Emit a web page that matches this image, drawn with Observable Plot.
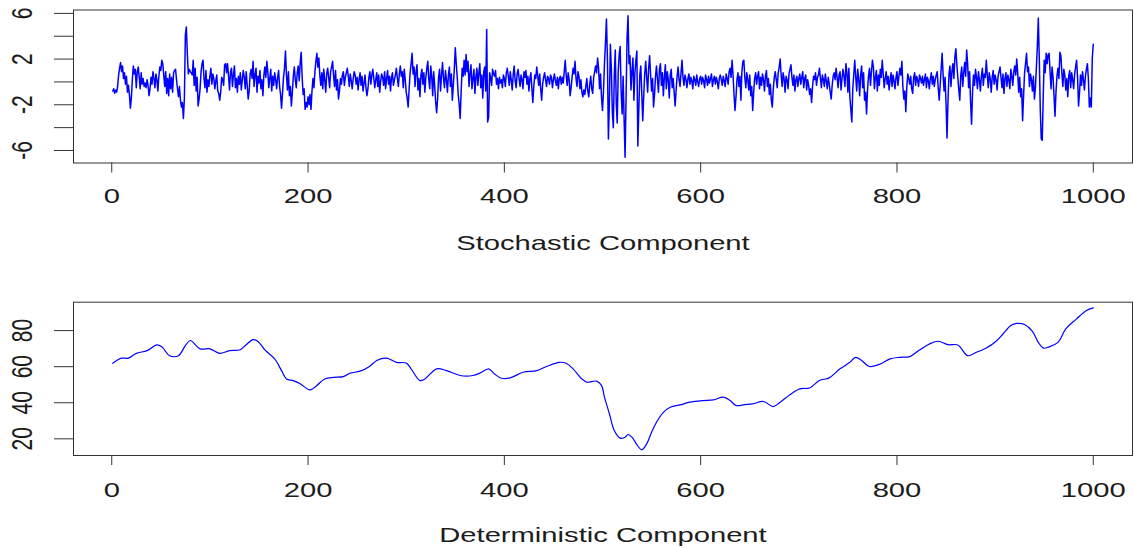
<!DOCTYPE html>
<html><head><meta charset="utf-8">
<script src="https://cdn.jsdelivr.net/npm/d3@7"></script>
<script src="https://cdn.jsdelivr.net/npm/@observablehq/plot@0.6"></script>
<style>
html,body{margin:0;padding:0;background:#fff;}
#chart{position:relative;width:1134px;height:548px;overflow:hidden;background:#fff;}
#chart svg{position:absolute;left:0;overflow:visible;}
</style></head><body><div id="chart"></div>
<script>
// Stochastic component (index 1..1000)
const stochastic = [
-0.8,-0.6,-1.0,-0.7,-0.9,-0.4,0.6,1.2,1.7,0.9,1.4,0.3,0.8,-0.2,0.5,-0.9,-0.3,-1.1,-2.3,-1.4,
0.2,1.4,0.7,1.1,-0.5,0.9,1.3,0.4,-0.6,0.8,-0.2,0.3,-0.4,-0.1,-0.5,0.2,-0.3,-1.2,-0.6,0.4,
-0.2,0.9,0.3,-0.5,0.7,0.2,-0.8,0.5,1.3,1.0,1.9,1.6,0.6,-0.4,0.9,-1.0,0.3,-1.2,0.7,-0.6,
0.4,-0.9,0.8,1.0,1.1,0.2,-0.6,-1.3,-0.4,-1.6,-2.2,-1.8,-3.2,-1.5,4.1,4.8,2.5,0.7,1.1,0.9,
0.8,0.6,1.9,-0.3,1.2,-0.8,0.4,-2.1,-1.5,-0.6,0.9,1.6,1.9,0.3,-0.5,1.0,-0.9,0.2,-0.4,0.5,
1.2,-0.2,0.7,0.3,-0.6,0.1,0.6,-0.8,-1.0,-1.6,-0.9,0.4,0.2,-0.3,1.5,1.6,0.8,1.6,0.5,-0.7,
0.9,1.2,-0.4,0.6,1.4,-0.5,0.3,-0.9,0.5,-0.2,0.8,-0.7,0.2,1.0,0.4,-0.6,0.9,-0.3,-1.5,-0.8,
0.7,1.1,0.3,1.8,-0.4,0.6,1.2,-0.9,0.5,-0.1,1.0,-0.6,0.2,-1.2,0.6,1.3,0.4,1.8,0.9,-0.5,
0.3,1.1,-0.8,0.5,-0.3,0.8,0.2,-0.6,0.4,1.0,-0.4,-1.1,-2.3,-1.0,0.4,1.2,2.7,0.6,-0.7,0.9,
-1.2,-0.4,-2.1,-0.9,0.5,1.3,0.2,-0.5,0.8,1.4,0.1,1.7,2.6,0.4,-1.1,-0.6,-2.4,-1.8,-2.2,-1.3,
-2.0,-1.1,-2.4,-0.8,0.3,-0.5,0.9,1.8,2.5,1.3,2.1,0.6,-0.3,0.8,-0.6,1.1,0.2,-0.9,0.7,1.2,
0.4,-0.5,0.9,1.3,1.8,0.6,-0.4,1.0,-0.7,0.2,-1.5,-0.8,0.3,-0.2,0.6,0.9,-0.3,0.4,0.8,1.2,
0.5,-0.4,0.7,0.1,-0.6,0.3,0.9,0.6,-0.2,0.4,-0.7,0.2,0.8,-0.3,0.5,-0.8,-0.1,0.6,-0.5,-1.2,
-0.6,0.4,0.9,-0.2,0.6,1.1,0.3,-0.5,0.2,0.8,-0.4,0.6,-0.9,0.1,0.7,0.4,-0.3,0.9,-0.6,0.3,
1.0,-0.2,0.5,-0.8,0.4,0.8,-0.3,0.2,0.6,1.2,0.3,-0.4,0.7,1.4,0.5,0.9,-0.5,1.1,0.2,-0.9,
-1.4,-2.2,-0.6,0.8,1.6,2.5,0.7,1.3,-0.4,0.9,1.5,-0.7,0.3,-1.3,0.6,1.1,-0.2,0.8,-0.9,0.4,
1.2,1.8,0.2,-0.6,1.4,0.5,-1.2,0.9,-0.3,-1.7,-2.7,-1.5,0.4,1.1,-0.8,0.6,1.7,0.3,-0.5,1.0,
0.2,-0.9,0.6,1.3,-0.4,0.7,-1.6,-0.3,1.1,3.0,1.6,0.4,-1.1,-2.0,-3.2,-0.8,1.2,0.5,1.9,0.6,
2.4,0.9,1.8,-0.4,0.7,1.5,-0.6,0.3,1.1,-1.0,0.4,1.2,-0.3,0.8,1.6,-0.5,0.6,-1.4,0.9,1.3,
-0.8,4.6,-3.5,-3.1,0.8,0.4,-0.3,1.1,0.7,0.5,1.0,-0.2,0.3,-0.6,0.4,-0.1,0.2,-0.5,0.6,0.3,
-0.4,0.8,1.2,0.5,-0.3,0.9,0.2,-0.7,0.6,1.4,0.1,-0.5,0.7,1.1,0.3,-0.4,0.6,0.2,-0.6,0.9,
0.4,1.0,-0.2,0.5,-0.8,0.3,0.8,-0.5,-1.8,-0.4,0.6,0.3,1.3,0.5,-0.3,0.7,-0.6,-1.6,-0.2,0.4,
0.8,0.2,-0.4,0.5,0.3,-0.2,0.6,0.4,-0.5,0.2,0.7,0.1,-0.3,0.4,-0.6,0.3,0.5,-0.2,0.4,-0.1,
0.9,1.9,0.6,-0.3,0.8,0.2,-1.2,-0.5,0.4,1.2,0.7,1.8,0.3,-0.4,0.9,0.5,-0.6,0.2,-0.9,-1.3,
-0.7,-1.1,-0.4,0.3,-0.8,-1.3,-0.2,0.5,-0.6,-1.0,0.4,0.9,1.4,0.8,2.1,1.2,-0.6,0.7,-1.4,-2.5,
-0.8,1.6,3.4,5.5,2.1,-5.0,-1.8,3.3,1.2,-2.6,-4.0,0.6,2.8,-1.9,-3.6,0.9,2.4,3.1,-0.9,-2.8,
0.5,-3.2,-6.6,-1.4,3.8,5.8,1.6,2.3,-0.7,0.9,2.1,-1.6,0.8,1.9,2.7,-5.6,-2.4,0.6,1.4,-1.0,
-3.4,-1.2,0.7,1.8,0.4,-0.9,1.2,2.3,0.6,-0.8,0.3,-2.2,-1.1,0.5,1.4,0.2,-0.9,1.1,1.6,-0.3,
0.8,-1.2,0.4,1.5,-0.6,0.9,0.2,-1.4,0.6,1.1,-0.5,0.3,-0.9,-2.1,-0.7,0.5,1.3,0.2,-0.4,0.8,
1.9,0.4,-0.3,0.6,0.2,-0.5,0.3,0.7,-0.2,0.4,0.1,-0.6,0.5,0.2,-0.3,0.6,0.0,-0.4,0.3,0.5,
-0.2,0.4,0.1,-0.5,0.6,0.2,-0.3,0.5,-0.1,0.3,0.7,-0.4,0.2,0.5,-0.2,0.4,0.0,-0.6,0.3,0.6,
0.2,-0.3,0.5,0.1,-0.4,0.7,0.3,-0.2,0.9,1.2,0.4,1.9,0.6,-1.1,-2.5,-1.3,0.2,0.8,-0.4,0.5,
-1.6,0.9,1.8,1.9,0.4,-0.5,0.8,0.2,-0.7,0.6,-1.2,-0.4,-2.5,-0.9,0.3,0.8,-0.2,0.5,0.9,-0.6,
0.4,-0.3,0.7,0.2,-0.8,0.5,1.0,-0.4,0.3,-1.1,-0.2,-1.6,-2.2,-0.6,0.4,0.9,0.2,-0.5,0.8,1.3,
2.0,0.6,-0.4,0.8,0.3,-0.9,0.5,0.2,-0.6,0.7,1.1,1.5,0.4,-0.3,0.6,-0.8,0.2,0.5,-0.4,0.3,
0.7,-0.2,0.4,0.9,-0.5,0.3,0.6,-0.7,0.2,-0.3,-1.1,-0.6,-1.8,-0.4,0.5,0.2,0.8,-0.3,0.4,0.6,
1.2,0.3,-0.5,0.6,0.2,-0.4,0.7,0.1,-0.6,0.4,-0.2,-0.9,-1.5,-0.3,0.5,0.8,0.2,1.2,0.4,-0.5,
0.6,0.9,-0.7,0.3,1.1,0.5,-0.4,1.6,0.8,-0.9,1.2,-1.3,-2.4,-3.5,-0.6,0.7,1.9,0.4,-0.8,1.1,
0.3,-1.2,0.6,1.4,-0.5,0.8,-1.6,-0.9,-2.8,-0.7,0.5,1.2,-0.3,0.9,1.9,1.3,-0.6,0.4,1.0,-0.8,
0.6,-0.3,1.1,0.4,1.9,0.7,-0.5,0.3,0.9,-0.2,0.5,-0.7,0.2,0.8,-0.4,0.6,0.1,-0.6,0.4,0.9,
-0.3,0.5,1.2,0.6,1.8,-0.4,-1.5,-0.8,-2.6,-0.5,0.7,0.3,-0.2,0.5,-0.6,-1.0,0.4,0.8,-0.3,0.5,
0.2,-0.4,0.6,0.3,-0.1,0.5,-0.3,0.2,0.7,-0.5,0.4,0.1,-0.6,0.3,0.8,-0.2,0.5,-0.4,0.2,0.6,
0.9,-0.5,-1.6,-0.3,1.1,2.5,0.6,-0.8,0.4,-1.9,-4.9,-1.6,0.7,1.4,-0.4,0.9,1.6,0.3,2.2,2.9,
1.5,0.4,-0.7,-1.6,0.6,1.3,-0.4,0.8,1.7,0.5,2.8,1.6,-0.5,0.9,-1.8,-3.7,-0.9,0.6,-0.3,1.1,
0.4,-0.6,0.9,0.2,-0.8,0.5,1.2,-0.3,0.7,0.4,1.9,0.6,-0.5,0.8,0.3,-0.9,0.4,1.0,-0.2,0.6,
0.2,-0.7,0.5,0.9,1.3,0.4,-0.5,0.7,-1.0,0.3,0.8,-0.4,0.6,0.2,-0.6,1.1,0.5,-0.3,0.9,1.4,
0.6,2.0,0.8,-0.9,0.4,-1.3,-0.6,-3.4,-1.2,0.8,1.6,2.5,0.9,1.3,-0.4,0.7,0.2,-0.8,0.5,-1.5,
-0.6,1.2,3.1,5.6,2.0,-2.4,-5.0,-5.1,-1.3,1.9,0.8,2.5,1.6,2.4,2.5,0.9,-0.6,1.3,0.4,-1.2,
-3.0,-0.9,0.5,1.2,0.3,2.6,2.3,0.8,-0.4,1.1,0.6,-0.7,0.3,-1.3,0.5,1.0,-0.5,0.8,0.2,-0.6,
0.7,1.3,1.9,0.4,-2.1,-0.9,0.6,-0.3,0.9,0.2,-0.7,0.5,1.1,1.6,0.3,-2.2,-1.4,-2.2,2.1,3.3
];

// Deterministic component, read at these indices
const detIndex = [1,10,17,25,36,46,51,59,68,75,80,90,100,110,120,131,137,144,149,156,166,173,178,185,192,202,209,217,226,236,243,253,263,270,280,290,300,305,314,319,331,341,355,368,375,384,390,397,406,419,433,443,456,463,470,479,484,494,499,502,507,512,518,523,526,530,535,540,545,550,555,562,569,579,589,602,613,623,630,636,645,653,664,674,681,691,701,711,721,731,742,752,758,764,772,782,793,803,813,823,833,842,852,862,872,881,891,901,908,916,922,930,938,944,949,955,964,972,983,993,1000];
const detValue = [61.9,64.7,64.7,67.4,68.9,72.1,71.0,66.1,66.1,71.7,74.5,69.9,69.9,67.4,68.9,69.4,72.2,75.0,74.0,69.3,64.3,57.8,53.2,52.3,50.5,47.1,49.6,53.2,54.1,54.5,56.4,57.5,60.3,63.4,64.7,62.4,62.0,58.8,52.3,53.2,58.8,57.8,55.1,55.1,56.4,58.8,55.9,53.6,53.8,56.9,57.8,60.1,62.4,61.9,58.8,53.2,51.4,52.0,49.6,43.1,33.9,24.6,20.4,20.9,22.4,20.9,16.8,13.9,17.2,23.7,29.2,34.7,37.5,38.8,40.3,41.2,41.6,43.1,41.2,38.5,39.0,39.4,40.7,37.9,40.3,44.5,47.7,48.2,52.3,53.8,58.8,62.4,65.2,63.4,60.1,61.3,64.3,65.2,65.6,69.3,72.6,74.1,72.2,72.0,66.1,68.0,70.3,74.1,78.1,82.8,84.0,83.4,79.6,73.5,70.3,71.0,73.5,80.9,86.5,91.1,92.6];

const xTicks = [0, 200, 400, 600, 800, 1000];
const yTicksTop = [-6, -4, -2, 0, 2, 4, 6];
const yLabelsTop = [-6, -2, 2, 6];
const yTicksBottom = [20, 40, 60, 80];
const yLabelsBottom = [20, 40, 60, 80];
const titles = ["Stochastic Component", "Deterministic Component"];

// R-style 4% range extension
const ext = ([a, b]) => [a - (b - a) * 0.04, b + (b - a) * 0.04];
const xDomain = ext([1, stochastic.length]);

const FONT = "Liberation Sans, Arial, Helvetica, sans-serif";
const INK = "#1c1c1c";
const FS = 21;
const STRETCH = 1.39;

function panel(o) {
  return Plot.plot({
    width: 1134,
    height: o.height,
    marginLeft: 73,
    marginRight: 2,
    marginTop: o.frameTop,
    marginBottom: o.height - o.frameBottom,
    x: {domain: xDomain},
    y: {domain: o.yDomain},
    style: {fontFamily: FONT, color: INK, background: "white", overflow: "visible"},
    marks: [
      o.line,
      Plot.frame({stroke: "#333", strokeWidth: 1}),
      Plot.axisX({ticks: xTicks, tickSize: 10, tickPadding: o.tickPad, tickFormat: d => String(d), fontSize: FS, stroke: "#333", fill: INK, label: null}),
      Plot.axisY({ticks: o.yTicks, tickSize: 19, tickFormat: () => "", stroke: "#333", label: null}),
      Plot.text(o.yLabels, {y: d => d, text: d => String(d), frameAnchor: "left", dx: -51.5, rotate: -90, textAnchor: "middle", lineAnchor: "middle", fontSize: FS, fill: INK}),
      Plot.text([o.title], {text: d => d, frameAnchor: "bottom", dy: o.titleDy, textAnchor: "middle", lineAnchor: "middle", fontSize: FS, fill: INK})
    ]
  });
}

const topPlot = panel({
  height: 265, frameTop: 9.5, frameBottom: 162.5,
  yDomain: ext(d3.extent(stochastic)),
  yTicks: yTicksTop, yLabels: yLabelsTop, title: titles[0],
  tickPad: 15.5, titleDy: 80,
  line: Plot.lineY(stochastic, {x: (d, i) => i + 1, y: d => d, stroke: "#0000ff", strokeWidth: 1.5})
});
const bottomPlot = panel({
  height: 278, frameTop: 31.7, frameBottom: 185,
  yDomain: ext(d3.extent(detValue)),
  yTicks: yTicksBottom, yLabels: yLabelsBottom, title: titles[1],
  tickPad: 17, titleDy: 79.5,
  line: Plot.line(detValue, {x: detIndex, y: d => d, stroke: "#0000ff", strokeWidth: 1.2, curve: "catmull-rom"})
});

const chart = document.getElementById("chart");
topPlot.style.top = "0px";
bottomPlot.style.top = "270px";
chart.appendChild(topPlot);
chart.appendChild(bottomPlot);

// The reference's lettering is horizontally stretched; stretch each text about its centre.
function stretch(svg, s) {
  svg.querySelectorAll("text").forEach(t => {
    const b = t.getBBox();
    if (!b.width) return;
    const cx = b.x + b.width / 2, cy = b.y + b.height / 2;
    const T = t.getAttribute("transform") || "";
    const sc = /rotate/.test(T) ? `scale(1,${s})` : `scale(${s},1)`;
    t.setAttribute("transform", `${T} translate(${cx},${cy}) ${sc} translate(${-cx},${-cy})`);
  });
}
stretch(topPlot, STRETCH);
stretch(bottomPlot, STRETCH);
</script>
</body></html>
